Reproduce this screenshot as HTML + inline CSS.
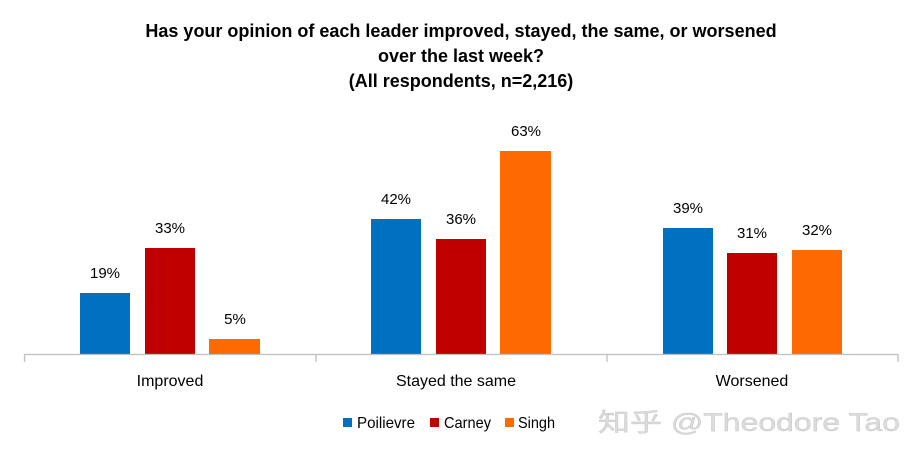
<!DOCTYPE html>
<html><head><meta charset="utf-8"><style>
html,body{margin:0;padding:0;background:#fff;}
svg{display:block;font-family:"Liberation Sans","Noto Sans CJK SC",sans-serif;}
</style></head><body>
<svg width="922" height="453" viewBox="0 0 922 453" xmlns="http://www.w3.org/2000/svg">
<g font-weight="bold" font-size="18" text-anchor="middle" fill="#000">
<text x="461" y="37">Has your opinion of each leader improved, stayed, the same, or worsened</text>
<text x="461" y="62">over the last week?</text>
<text x="461" y="87">(All respondents,  n=2,216)</text>
</g>
<g>
<rect x="80" y="293" width="50" height="61" fill="#0070C0"/>
<rect x="145" y="248" width="50" height="106" fill="#C00000"/>
<rect x="209" y="339" width="51" height="15" fill="#FF6A00"/>
<rect x="371" y="219" width="50" height="135" fill="#0070C0"/>
<rect x="436" y="239" width="50" height="115" fill="#C00000"/>
<rect x="500" y="151" width="51" height="203" fill="#FF6A00"/>
<rect x="663" y="228" width="50" height="126" fill="#0070C0"/>
<rect x="727" y="253" width="50" height="101" fill="#C00000"/>
<rect x="792" y="250" width="50" height="104" fill="#FF6A00"/>
</g>
<g stroke="#bfbfbf" stroke-width="1.3">
<line x1="24" y1="354.5" x2="898" y2="354.5"/>
<line x1="24.5" y1="354" x2="24.5" y2="362"/>
<line x1="316" y1="354" x2="316" y2="362"/>
<line x1="607" y1="354" x2="607" y2="362"/>
<line x1="898" y1="354" x2="898" y2="362"/>
</g>
<g font-size="15" text-anchor="middle" fill="#000">
<text x="105" y="278">19%</text>
<text x="170" y="233">33%</text>
<text x="235" y="324">5%</text>
<text x="396" y="204">42%</text>
<text x="461" y="224">36%</text>
<text x="526" y="136">63%</text>
<text x="688" y="213">39%</text>
<text x="752" y="238">31%</text>
<text x="817" y="235">32%</text>
</g>
<g font-size="16" text-anchor="middle" fill="#000">
<text x="170" y="386">Improved</text>
<text x="456" y="386">Stayed the same</text>
<text x="752" y="386">Worsened</text>
</g>
<g font-size="16" fill="#000">
<rect x="343" y="418" width="9" height="9" fill="#0070C0"/>
<text x="357" y="428" textLength="58" lengthAdjust="spacingAndGlyphs">Poilievre</text>
<rect x="430" y="418" width="9" height="9" fill="#C00000"/>
<text x="444" y="428" textLength="47" lengthAdjust="spacingAndGlyphs">Carney</text>
<rect x="505" y="418" width="9" height="9" fill="#FF6A00"/>
<text x="518" y="428" textLength="37" lengthAdjust="spacingAndGlyphs">Singh</text>
</g>
<text x="598" y="431" font-size="25" fill="#dcdcdc" stroke="#c4c4c4" stroke-width="0.4" textLength="302" lengthAdjust="spacingAndGlyphs">知乎 @Theodore Tao</text>
</svg>
</body></html>
